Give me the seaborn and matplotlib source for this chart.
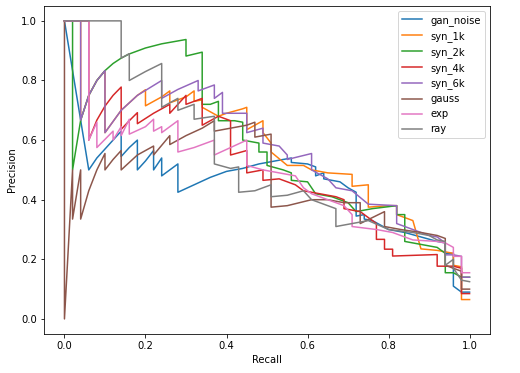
import matplotlib
matplotlib.use("Agg")
import pandas as pd
import seaborn as sns
from matplotlib import pyplot as plt

# precision / recall vertices, one pair of lists per model
gan_noise_r = [0, 0.06, 0.08, 0.10, 0.12, 0.14, 0.14, 0.16, 0.18, 0.18, 0.20, 0.22, 0.22, 0.24, 0.24,
               0.26, 0.28, 0.28, 0.32, 0.36, 0.40, 0.44, 0.48, 0.52, 0.56, 0.56, 0.60, 0.62, 0.62,
               0.64, 0.64, 0.68, 0.70, 0.72, 0.72, 0.74, 0.74, 0.76, 0.80, 0.84, 0.88, 0.92, 0.94,
               0.94, 0.96, 0.96, 0.98, 1.0]
gan_noise_p = [1.0, 0.5, 0.54, 0.57, 0.60, 0.63, 0.545, 0.575, 0.60, 0.5, 0.53, 0.565, 0.5, 0.54, 0.48,
               0.50, 0.52, 0.425, 0.45, 0.475, 0.495, 0.505, 0.52, 0.53, 0.54, 0.525, 0.52, 0.51, 0.48,
               0.49, 0.47, 0.46, 0.44, 0.425, 0.345, 0.35, 0.335, 0.33, 0.30, 0.29, 0.275, 0.26, 0.255,
               0.22, 0.22, 0.11, 0.09, 0.09]

syn_1k_r = [0, 0.04, 0.04, 0.06, 0.08, 0.10, 0.10, 0.14, 0.18, 0.20, 0.20, 0.24, 0.26, 0.26, 0.30,
            0.32, 0.32, 0.34, 0.34, 0.38, 0.40, 0.44, 0.45, 0.45, 0.49, 0.49, 0.51, 0.51, 0.55,
            0.59, 0.61, 0.65, 0.71, 0.71, 0.75, 0.75, 0.80, 0.82, 0.82, 0.86, 0.88, 0.92, 0.96,
            0.96, 0.98, 0.98, 1.0]
syn_1k_p = [1.0, 1.0, 0.667, 0.75, 0.80, 0.833, 0.625, 0.70, 0.75, 0.769, 0.715, 0.745, 0.765, 0.725, 0.745,
            0.765, 0.73, 0.735, 0.71, 0.68, 0.69, 0.705, 0.71, 0.635, 0.665, 0.625, 0.59, 0.56, 0.515,
            0.515, 0.50, 0.49, 0.485, 0.445, 0.45, 0.375, 0.38, 0.38, 0.35, 0.33, 0.235, 0.23, 0.22,
            0.18, 0.175, 0.065, 0.065]

syn_2k_r = [0, 0.02, 0.02, 0.04, 0.06, 0.08, 0.10, 0.12, 0.14, 0.16, 0.20, 0.24, 0.30, 0.30, 0.34,
            0.34, 0.36, 0.38, 0.38, 0.42, 0.44, 0.44, 0.48, 0.48, 0.50, 0.50, 0.54, 0.56, 0.56,
            0.60, 0.62, 0.66, 0.70, 0.72, 0.76, 0.82, 0.82, 0.84, 0.84, 0.88, 0.92, 0.94, 0.94,
            0.96, 0.98, 1.0]
syn_2k_p = [1.0, 1.0, 0.5, 0.667, 0.75, 0.80, 0.833, 0.857, 0.875, 0.889, 0.909, 0.923, 0.9375, 0.882, 0.895,
            0.72, 0.72, 0.73, 0.665, 0.665, 0.66, 0.60, 0.59, 0.56, 0.56, 0.515, 0.50, 0.49, 0.465,
            0.46, 0.42, 0.41, 0.39, 0.36, 0.37, 0.38, 0.35, 0.35, 0.26, 0.25, 0.24, 0.22, 0.155,
            0.155, 0.14, 0.14]

syn_4k_r = [0, 0.06, 0.06, 0.08, 0.10, 0.12, 0.14, 0.14, 0.16, 0.18, 0.18, 0.22, 0.24, 0.26, 0.26,
            0.30, 0.30, 0.34, 0.34, 0.36, 0.38, 0.41, 0.41, 0.45, 0.45, 0.49, 0.49, 0.53, 0.57,
            0.59, 0.63, 0.67, 0.69, 0.69, 0.73, 0.77, 0.77, 0.79, 0.79, 0.81, 0.81, 0.92, 0.92,
            0.96, 0.98, 0.98, 1.0]
syn_4k_p = [1.0, 1.0, 0.6, 0.667, 0.714, 0.75, 0.778, 0.636, 0.665, 0.692, 0.655, 0.69, 0.705, 0.72, 0.69,
            0.75, 0.72, 0.74, 0.65, 0.665, 0.68, 0.665, 0.55, 0.565, 0.49, 0.50, 0.465, 0.47, 0.45,
            0.43, 0.42, 0.41, 0.40, 0.37, 0.36, 0.32, 0.267, 0.267, 0.234, 0.234, 0.211, 0.216, 0.177,
            0.177, 0.17, 0.085, 0.085]

syn_6k_r = [0, 0.04, 0.04, 0.06, 0.08, 0.10, 0.10, 0.14, 0.18, 0.24, 0.24, 0.28, 0.33, 0.33, 0.37,
            0.37, 0.39, 0.39, 0.41, 0.45, 0.45, 0.49, 0.49, 0.53, 0.55, 0.55, 0.61, 0.61, 0.65,
            0.67, 0.71, 0.75, 0.75, 0.82, 0.82, 0.86, 0.90, 0.92, 0.94, 0.94, 0.96, 0.98, 0.98, 1.0]
syn_6k_p = [1.0, 1.0, 0.667, 0.75, 0.80, 0.833, 0.625, 0.70, 0.75, 0.80, 0.74, 0.77, 0.80, 0.765, 0.785,
            0.74, 0.76, 0.69, 0.69, 0.69, 0.625, 0.64, 0.59, 0.58, 0.55, 0.535, 0.555, 0.50, 0.47,
            0.44, 0.43, 0.385, 0.385, 0.38, 0.32, 0.30, 0.28, 0.275, 0.255, 0.215, 0.215, 0.21, 0.14, 0.14]

gauss_r = [0, 0, 0.02, 0.02, 0.04, 0.04, 0.06, 0.08, 0.10, 0.10, 0.12, 0.14, 0.14, 0.18, 0.22,
           0.22, 0.26, 0.26, 0.30, 0.34, 0.37, 0.37, 0.41, 0.45, 0.47, 0.47, 0.51, 0.51, 0.55,
           0.61, 0.65, 0.69, 0.73, 0.73, 0.79, 0.79, 0.83, 0.88, 0.92, 0.94, 0.94, 0.96, 0.98,
           0.98, 1.0]
gauss_p = [1.0, 0.0, 0.5, 0.335, 0.5, 0.335, 0.43, 0.50, 0.555, 0.50, 0.535, 0.565, 0.50, 0.55, 0.58,
           0.55, 0.615, 0.585, 0.615, 0.64, 0.665, 0.63, 0.64, 0.65, 0.66, 0.61, 0.62, 0.375, 0.38,
           0.40, 0.40, 0.39, 0.39, 0.32, 0.36, 0.31, 0.30, 0.29, 0.28, 0.27, 0.18, 0.17, 0.16,
           0.10, 0.10]

exp_r = [0, 0.06, 0.06, 0.08, 0.08, 0.12, 0.12, 0.14, 0.14, 0.16, 0.16, 0.20, 0.22, 0.22, 0.24,
         0.24, 0.28, 0.28, 0.32, 0.37, 0.37, 0.41, 0.45, 0.45, 0.49, 0.53, 0.57, 0.59, 0.61,
         0.65, 0.69, 0.71, 0.71, 0.77, 0.81, 0.86, 0.92, 0.94, 0.96, 0.96, 0.98, 0.98, 1.0]
exp_p = [1.0, 1.0, 0.6, 0.66, 0.575, 0.63, 0.60, 0.645, 0.615, 0.67, 0.62, 0.645, 0.67, 0.63, 0.645,
         0.625, 0.665, 0.56, 0.575, 0.60, 0.55, 0.575, 0.60, 0.515, 0.50, 0.49, 0.48, 0.44, 0.42,
         0.40, 0.38, 0.35, 0.31, 0.30, 0.29, 0.265, 0.26, 0.255, 0.24, 0.21, 0.21, 0.155, 0.155]

ray_r = [0, 0.14, 0.14, 0.16, 0.16, 0.20, 0.24, 0.24, 0.28, 0.28, 0.32, 0.32, 0.37, 0.37, 0.41,
         0.43, 0.43, 0.47, 0.51, 0.51, 0.55, 0.59, 0.61, 0.63, 0.67, 0.67, 0.71, 0.75, 0.80, 0.86,
         0.90, 0.92, 0.94, 0.94, 0.96, 0.96, 0.98, 1.0]
ray_p = [1.0, 1.0, 0.875, 0.89, 0.80, 0.83, 0.857, 0.71, 0.74, 0.70, 0.72, 0.67, 0.68, 0.52, 0.505,
         0.51, 0.425, 0.43, 0.45, 0.41, 0.415, 0.43, 0.40, 0.39, 0.37, 0.31, 0.32, 0.33, 0.30, 0.29,
         0.28, 0.265, 0.26, 0.18, 0.20, 0.17, 0.13, 0.125]

models = ["gan_noise", "syn_1k", "syn_2k", "syn_4k", "syn_6k", "gauss", "exp", "ray"]
curves = [(gan_noise_r, gan_noise_p), (syn_1k_r, syn_1k_p), (syn_2k_r, syn_2k_p), (syn_4k_r, syn_4k_p),
          (syn_6k_r, syn_6k_p), (gauss_r, gauss_p), (exp_r, exp_p), (ray_r, ray_p)]

frames = []
for name, (r, p) in zip(models, curves):
    assert len(r) == len(p), name
    frames.append(pd.DataFrame({"Recall": r, "Precision": p, "model": name}))
df = pd.concat(frames, ignore_index=True)

fig, ax = plt.subplots(figsize=(520 / 72, 373 / 72), dpi=72)
fig.subplots_adjust(left=0.085, right=0.942, top=0.984, bottom=0.105)

# estimator=None / sort=False keeps the vertical drops of each curve in draw order
sns.lineplot(data=df, x="Recall", y="Precision", hue="model", hue_order=models,
             palette="tab10", estimator=None, sort=False, units="model", linewidth=1.5, ax=ax)
sns.move_legend(ax, "upper right", title=None)

ax.set_xticks([0, 0.2, 0.4, 0.6, 0.8, 1.0])
ax.set_yticks([0, 0.2, 0.4, 0.6, 0.8, 1.0])

fig.savefig("out.png", dpi=72)
